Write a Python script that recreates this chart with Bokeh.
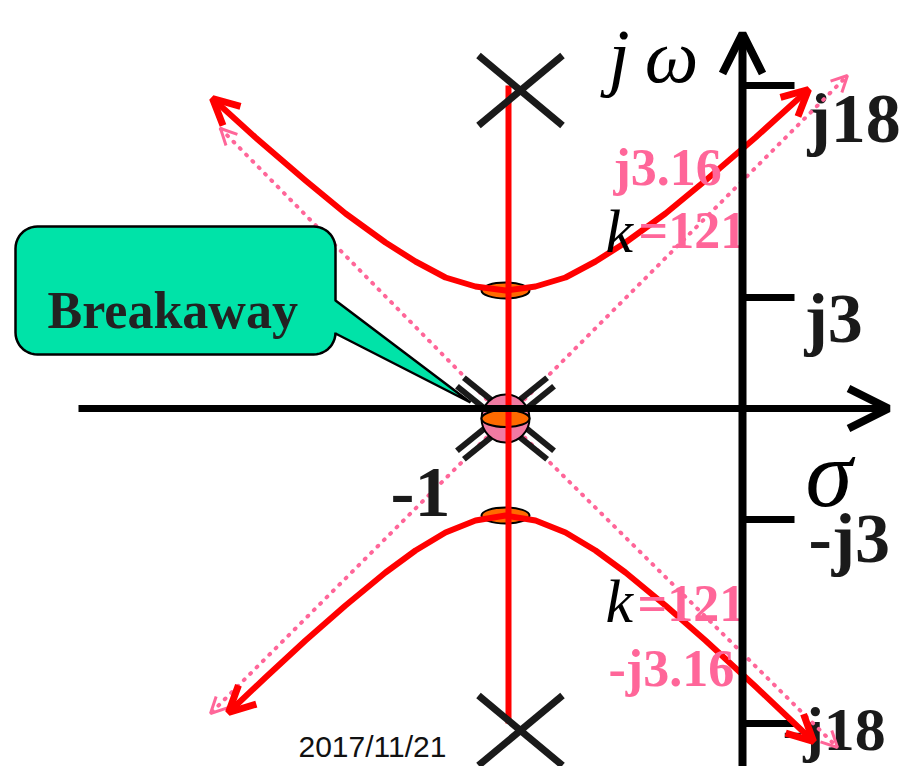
import numpy as np
from bokeh.plotting import figure
from bokeh.models import Range1d, Arrow, OpenHead
from bokeh.core.properties import value
from bokeh.embed import file_html
from bokeh.resources import INLINE

# ---------------- data (diagram units, origin at the axes crossing) ----------------
double_pole = [-237, -10]                 # double pole at s = -1
pole_x = [-222, -222]                     # single poles (top / bottom)
pole_y = [318, -322]
break_x = [-237, -237]                    # breakaway / break-in points
break_y = [118, -107]
locus_vert_x = [-234, -234]               # vertical locus segment
locus_vert_y = [323, -315]
upper_x = [-530, -487, -437, -397, -357, -327, -297, -267, -237, -207, -177, -147, -117, -77, -37, 13, 66]
upper_y = [310, 271, 228, 195, 166, 147, 131, 122, 118, 122, 131, 147, 166, 195, 228, 271, 319]
lower_x = [-514, -477, -437, -397, -357, -327, -297, -267, -237, -207, -177, -147, -117, -77, -37, 13, 71]
lower_y = [-304, -269, -232, -197, -164, -142, -124, -112, -107, -112, -124, -142, -164, -197, -232, -278, -333]
asym_end_x = [105, -522, 95, -532]
asym_end_y = [333, 280, -339, -305]
tick_y = [323, 111, -111, -315]
tick_labels = ["j18", "j3", "-j3", "-j18"]
tick_label_x = [65, 62, 66, 40]
tick_label_y = [290, 90, -130, -320]

RED = "#ff0000"
PINK = "#ff6699"
BLACK = "#000000"
DARK = "#1a1a1a"
SERIF = value("Liberation Serif")

p = figure(width=906, height=766, output_backend="svg", toolbar_location=None,
           x_range=Range1d(-742, 164), y_range=Range1d(-358, 408),
           min_border=0, background_fill_color="white", border_fill_color="white")
p.axis.visible = False
p.grid.visible = False
p.outline_line_color = None

# ---------------- axes ----------------
p.add_layout(Arrow(end=OpenHead(size=40, line_width=8, line_color=BLACK),
                   x_start=-664, y_start=0, x_end=146, y_end=0,
                   line_width=7, line_color=BLACK))
p.add_layout(Arrow(end=OpenHead(size=40, line_width=8, line_color=BLACK),
                   x_start=0, y_start=-380, x_end=0, y_end=375,
                   line_width=8, line_color=BLACK))
p.segment(x0=[0] * len(tick_y), y0=tick_y, x1=[52] * len(tick_y), y1=tick_y,
          line_width=7, line_color=BLACK)
p.text(x=tick_label_x[:3], y=tick_label_y[:3], text=tick_labels[:3], text_font=SERIF,
       text_font_style="bold", text_font_size="70px", text_color=DARK,
       text_baseline="alphabetic", text_align="left")
p.text(x=tick_label_x[3:], y=tick_label_y[3:], text=tick_labels[3:], text_font=SERIF,
       text_font_style="bold", text_font_size="62px", text_color=DARK,
       text_baseline="alphabetic", text_align="left")

# ---------------- asymptotes (pink dotted) ----------------
cx, cy = double_pole
for ex, ey in zip(asym_end_x, asym_end_y):
    p.line([cx, ex], [cy, ey], line_color=PINK, line_width=4,
           line_dash="1 8", line_cap="round")
    p.add_layout(Arrow(end=OpenHead(size=16, line_width=3, line_color=PINK),
                       x_start=cx, y_start=cy, x_end=ex, y_end=ey, line_alpha=0))

# ---------------- double pole (double X) ----------------
ang = np.deg2rad(39)
L, off = 58, 5.5
sx0, sy0, sx1, sy1 = [], [], [], []
for d in (ang, np.pi - ang):
    ux, uy = np.cos(d), np.sin(d)
    nx, ny = -uy, ux
    for o in (-off, off):
        sx0.append(cx - L * ux + o * nx); sy0.append(cy - L * uy + o * ny)
        sx1.append(cx + L * ux + o * nx); sy1.append(cy + L * uy + o * ny)
p.segment(x0=sx0, y0=sy0, x1=sx1, y1=sy1, line_color=DARK, line_width=6)
p.circle(x=[cx], y=[cy], radius=24, fill_color="#f07aa2", line_color=BLACK, line_width=2)
p.ellipse(x=[cx], y=[cy], width=48, height=17, fill_color="#ff6a00",
          line_color=BLACK, line_width=2)

# ---------------- breakaway markers ----------------
p.ellipse(x=break_x, y=break_y, width=48, height=16, fill_color="#ff6a00",
          line_color=BLACK, line_width=2)

# ---------------- root locus ----------------
p.line(locus_vert_x, locus_vert_y, line_color=RED, line_width=6)
p.line(upper_x, upper_y, line_color=RED, line_width=6, line_join="round")
p.line(lower_x, lower_y, line_color=RED, line_width=6, line_join="round")
for xs, ys in ((upper_x, upper_y), (lower_x, lower_y)):
    for a, b in ((1, 0), (-2, -1)):
        p.add_layout(Arrow(end=OpenHead(size=26, line_width=7, line_color=RED),
                           x_start=xs[a], y_start=ys[a], x_end=xs[b], y_end=ys[b],
                           line_alpha=0))

# ---------------- single poles ----------------
hx, hy = 42, 35
p.segment(x0=[x - hx for x in pole_x] + [x - hx for x in pole_x],
          y0=[y - hy for y in pole_y] + [y + hy for y in pole_y],
          x1=[x + hx for x in pole_x] + [x + hx for x in pole_x],
          y1=[y + hy for y in pole_y] + [y - hy for y in pole_y],
          line_color=DARK, line_width=7)

# ---------------- callout ----------------
def callout(x0, x1, y0, y1, r, base_top, base_bot, tip, n=12):
    xs, ys = [], []
    def arc(cxx, cyy, a0, a1):
        t = np.linspace(np.deg2rad(a0), np.deg2rad(a1), n)
        xs.extend(cxx + r * np.cos(t)); ys.extend(cyy + r * np.sin(t))
    arc(x0 + r, y1 - r, 180, 90)
    arc(x1 - r, y1 - r, 90, 0)
    xs.extend([x1, tip[0], x1]); ys.extend([base_top, tip[1], base_bot])
    arc(x1 - r, y0 + r, 0, -90)
    arc(x0 + r, y0 + r, -90, -180)
    return xs, ys

bx, by = callout(-727, -407, 54, 182, 22, 108, 75, (-272, 6))
p.patch(bx, by, fill_color="#00e3a8", line_color=BLACK, line_width=2.5)
p.text(x=[-695], y=[98], text=["Breakaway"], text_font=SERIF, text_font_style="bold",
       text_font_size="52px", text_color="#222222", text_baseline="alphabetic")

# ---------------- labels ----------------
p.text(x=[-134], y=[353], text=["j\u2009\u03c9"], text_font=SERIF, text_font_style="italic",
       text_font_size="76px", text_color=BLACK, text_baseline="alphabetic")
p.text(x=[63], y=[-65], text=["\u03c3"], text_font=SERIF, text_font_style="italic",
       text_font_size="95px", text_color=BLACK, text_baseline="alphabetic")
p.text(x=[-352], y=[-84], text=["-1"], text_font=SERIF, text_font_style="bold",
       text_font_size="72px", text_color=DARK, text_baseline="alphabetic")
p.text(x=[-129, -134], y=[241, -260], text=["j3.16", "-j3.16"], text_font=SERIF,
       text_font_style="bold", text_font_size="52px", text_color=PINK,
       text_baseline="alphabetic")
p.text(x=[-137, -137], y=[178, -192], text=["k", "k"], text_font=SERIF,
       text_font_style="italic", text_font_size="62px", text_color=BLACK,
       text_baseline="alphabetic")
p.text(x=[-104, -105], y=[178, -195], text=["=121", "=121"], text_font=SERIF,
       text_font_style="bold", text_font_size="52px", text_color=PINK,
       text_baseline="alphabetic")
p.text(x=[-444], y=[-338], text=["2017/11/21"], text_font=value("Liberation Sans"),
       text_font_size="30px", text_color="#111111", text_baseline="alphabetic")

open("out.html", "w").write(file_html(p, INLINE))
